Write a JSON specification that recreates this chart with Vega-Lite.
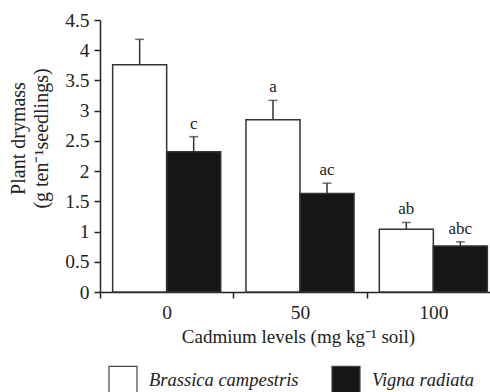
{
  "$schema": "https://vega.github.io/schema/vega-lite/v6.json",
  "width": 390,
  "height": 272,
  "autosize": "none",
  "padding": {"left": 100, "top": 20, "right": 0, "bottom": 100},
  "config": {
    "view": {"stroke": null},
    "font": "Liberation Serif",
    "axis": {"grid": false, "domainColor": "#222", "tickColor": "#222", "labelColor": "#222", "titleColor": "#222", "labelFont": "Liberation Serif", "titleFont": "Liberation Serif", "titleFontWeight": "normal", "labelFontSize": 19.5, "titleFontSize": 19, "domainWidth": 1.5, "tickWidth": 1.5, "tickSize": 6}
  },
  "data": {
    "values": [
      {"level": "0", "species": "Brassica campestris", "value": 3.76, "upper": 4.18, "label": ""},
      {"level": "0", "species": "Vigna radiata", "value": 2.32, "upper": 2.57, "label": "c"},
      {"level": "50", "species": "Brassica campestris", "value": 2.85, "upper": 3.17, "label": "a"},
      {"level": "50", "species": "Vigna radiata", "value": 1.63, "upper": 1.80, "label": "ac"},
      {"level": "100", "species": "Brassica campestris", "value": 1.04, "upper": 1.15, "label": "ab"},
      {"level": "100", "species": "Vigna radiata", "value": 0.76, "upper": 0.83, "label": "abc"}
    ]
  },
  "encoding": {
    "x": {
      "field": "level", "type": "nominal", "sort": ["0", "50", "100"],
      "scale": {"range": [0, 400], "paddingInner": 0, "paddingOuter": 0},
      "axis": {"title": "Cadmium levels (mg kg⁻¹ soil)", "labelAngle": 0, "tickBand": "extent", "labelPadding": 5, "titleY": 50, "titleBaseline": "alphabetic", "titleX": 198}
    },
    "xOffset": {
      "field": "species", "type": "nominal",
      "scale": {"paddingInner": 0, "paddingOuter": 0.234}
    },
    "y": {
      "field": "value", "type": "quantitative",
      "scale": {"domain": [0, 4.5], "nice": false},
      "axis": {
        "values": [0, 0.5, 1, 1.5, 2, 2.5, 3, 3.5, 4, 4.5],
        "format": "~g", "labelOverlap": false, "labelFlush": false,
        "title": ["Plant drymass", "(g ten⁻¹seedlings)"],
        "titleFontSize": 20, "titleX": -92, "titleY": 118, "titleBaseline": "top", "titleAlign": "center", "titleLineHeight": 23,
        "labelPadding": 5
      }
    }
  },
  "layer": [
    {
      "mark": {"type": "rule", "stroke": "#333", "strokeWidth": 1.5},
      "encoding": {
        "y2": {"field": "upper"}
      }
    },
    {
      "mark": {"type": "tick", "color": "#333", "size": 9, "thickness": 1.5},
      "encoding": {
        "y": {
          "field": "upper", "type": "quantitative",
          "scale": {"domain": [0, 4.5], "nice": false},
          "axis": {
            "values": [0, 0.5, 1, 1.5, 2, 2.5, 3, 3.5, 4, 4.5],
            "format": "~g", "labelOverlap": false, "labelFlush": false,
            "title": ["Plant drymass", "(g ten⁻¹seedlings)"],
            "titleFontSize": 20, "titleX": -92, "titleY": 118, "titleBaseline": "top", "titleAlign": "center", "titleLineHeight": 23,
            "labelPadding": 5
          }
        }
      }
    },
    {
      "mark": {"type": "bar", "stroke": "#333", "strokeWidth": 1.5},
      "encoding": {
        "fill": {
          "field": "species", "type": "nominal",
          "scale": {"domain": ["Brassica campestris", "Vigna radiata"], "range": ["#ffffff", "#161616"]},
          "legend": {
            "title": null, "orient": "none", "direction": "horizontal",
            "legendX": 8, "legendY": 345, "padding": 0,
            "symbolType": "square", "symbolSize": 784, "symbolStrokeColor": "#444", "symbolStrokeWidth": 1.2,
            "labelFont": "Liberation Serif", "labelFontStyle": "italic", "labelFontSize": 18.5, "labelColor": "#222",
            "labelOffset": 11, "columnPadding": 30, "labelLimit": 300
          }
        }
      }
    },
    {
      "mark": {"type": "text", "fontSize": 17, "color": "#222", "baseline": "alphabetic", "dy": -8},
      "encoding": {
        "y": {
          "field": "upper", "type": "quantitative",
          "scale": {"domain": [0, 4.5], "nice": false},
          "axis": {
            "values": [0, 0.5, 1, 1.5, 2, 2.5, 3, 3.5, 4, 4.5],
            "format": "~g", "labelOverlap": false, "labelFlush": false,
            "title": ["Plant drymass", "(g ten⁻¹seedlings)"],
            "titleFontSize": 20, "titleX": -92, "titleY": 118, "titleBaseline": "top", "titleAlign": "center", "titleLineHeight": 23,
            "labelPadding": 5
          }
        },
        "text": {"field": "label"}
      }
    }
  ]
}
